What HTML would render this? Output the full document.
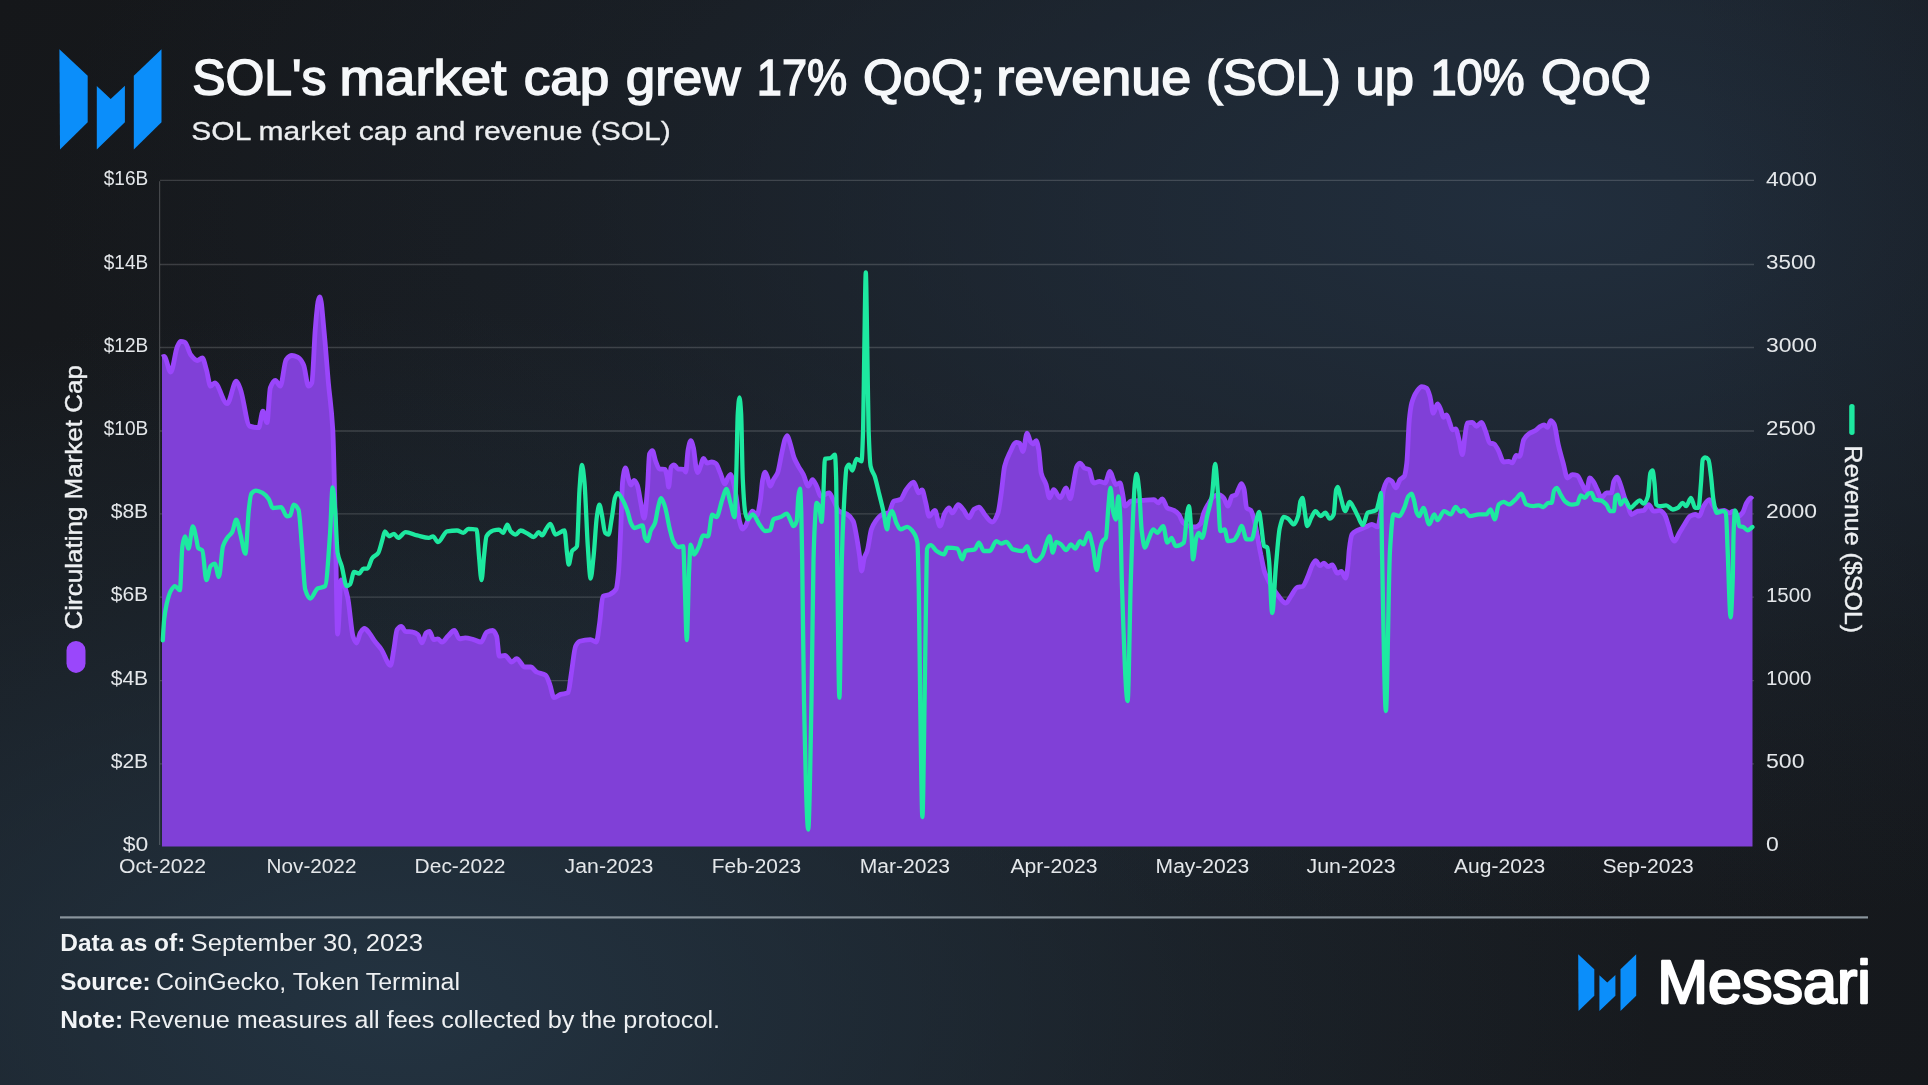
<!DOCTYPE html>
<html><head><meta charset="utf-8"><title>SOL market cap and revenue</title>
<style>
html,body{margin:0;padding:0;}
body{width:1928px;height:1085px;overflow:hidden;background:#16181b;font-family:"Liberation Sans",sans-serif;}
#bg{position:absolute;left:0;top:0;width:1928px;height:1085px;
background:
 linear-gradient(90deg, rgba(18,20,24,0) 1690px, rgba(18,20,24,0.22) 1928px),
 radial-gradient(ellipse 1500px 720px at 1540px 210px, rgba(33,46,61,1) 0%, rgba(33,46,61,0.6) 35%, rgba(33,46,61,0.24) 65%, rgba(33,46,61,0) 100%),
 radial-gradient(ellipse 1250px 700px at 400px 1010px, rgba(35,51,65,1) 0%, rgba(35,51,65,0.64) 33%, rgba(35,51,65,0.27) 66%, rgba(35,51,65,0) 100%),
 linear-gradient(135deg, #15171a 0%, #191d22 50%, #16191d 100%);}
svg{position:absolute;left:0;top:0;will-change:transform;font-family:"Liberation Sans",sans-serif;}
</style></head><body><div id="bg"></div>
<svg width="1928" height="1085" viewBox="0 0 1928 1085">
<line x1="160" y1="180.4" x2="1754" y2="180.4" stroke="#ffffff" stroke-opacity="0.16" stroke-width="1.3"/>
<line x1="160" y1="264.5" x2="1754" y2="264.5" stroke="#ffffff" stroke-opacity="0.16" stroke-width="1.3"/>
<line x1="160" y1="347.5" x2="1754" y2="347.5" stroke="#ffffff" stroke-opacity="0.16" stroke-width="1.3"/>
<line x1="160" y1="431.0" x2="1754" y2="431.0" stroke="#ffffff" stroke-opacity="0.16" stroke-width="1.3"/>
<line x1="160" y1="513.8" x2="1754" y2="513.8" stroke="#ffffff" stroke-opacity="0.16" stroke-width="1.3"/>
<line x1="160" y1="597.2" x2="1754" y2="597.2" stroke="#ffffff" stroke-opacity="0.16" stroke-width="1.3"/>
<line x1="160" y1="680.6" x2="1754" y2="680.6" stroke="#ffffff" stroke-opacity="0.16" stroke-width="1.3"/>
<line x1="160" y1="763.9" x2="1754" y2="763.9" stroke="#ffffff" stroke-opacity="0.16" stroke-width="1.3"/>
<line x1="159.6" y1="181.2" x2="159.6" y2="845.0" stroke="#ffffff" stroke-opacity="0.2" stroke-width="1.2"/>
<path d="M162.0,357.2C162.7,356.9 163.4,356.3 164.1,356.3C166.3,356.3 168.5,372.1 170.7,372.1C172.9,372.1 175.2,351.0 177.4,346.4C178.5,344.1 179.6,341.4 180.7,341.4C182.1,341.4 183.5,341.7 184.9,342.2C186.8,342.8 188.8,352.3 190.7,354.7C192.9,357.5 195.1,360.5 197.3,360.5C199.0,360.5 200.6,358.0 202.3,358.0C203.7,358.0 205.0,365.1 206.4,369.6C207.8,374.2 209.2,386.2 210.6,386.2C212.0,386.2 213.3,382.9 214.7,382.9C218.9,382.9 223.0,403.7 227.2,403.7C230.2,403.7 233.3,381.2 236.3,381.2C237.7,381.2 239.1,385.9 240.5,389.5C243.5,397.2 246.6,425.1 249.6,426.1C252.6,427.1 255.7,427.7 258.7,427.7C260.1,427.7 261.5,411.1 262.9,411.1C264.3,411.1 265.6,422.7 267.0,422.7C268.1,422.7 269.2,390.9 270.3,387.9C272.0,383.3 273.6,380.4 275.3,380.4C277.0,380.4 278.6,386.2 280.3,386.2C282.2,386.2 284.2,362.1 286.1,359.7C288.0,357.3 290.0,355.5 291.9,355.5C293.8,355.5 295.8,356.3 297.7,357.2C299.6,358.1 301.6,360.7 303.5,364.6C305.2,367.9 306.8,386.2 308.5,386.2C309.6,386.2 310.7,385.0 311.8,382.9C312.9,380.8 314.1,344.6 315.2,330.0C315.8,322.7 316.3,316.1 316.9,310.7C317.2,307.5 317.6,304.0 317.9,302.4C318.5,299.7 319.0,297.0 319.6,297.0C320.2,297.0 320.7,299.6 321.3,302.4C321.6,303.9 321.9,307.7 322.2,310.7C323.2,320.9 324.3,333.0 325.3,345.0C326.3,357.0 327.4,371.1 328.4,382.9C329.9,399.7 331.3,404.2 332.8,430.0C333.7,446.4 334.7,499.9 335.6,540.0C336.3,568.7 336.9,634.0 337.6,634.0C338.8,634.0 340.0,580.0 341.2,580.0C343.3,580.0 345.5,588.6 347.6,597.0C349.4,604.2 351.3,631.6 353.1,636.8C354.2,639.9 355.3,643.0 356.4,643.0C357.8,643.0 359.1,634.5 360.5,632.5C361.8,630.6 363.1,628.5 364.4,628.5C365.9,628.5 367.4,630.8 368.9,632.5C370.8,634.6 372.8,638.6 374.7,641.2C376.9,644.2 379.2,646.3 381.4,649.5C384.4,653.8 387.5,665.3 390.5,665.3C391.6,665.3 392.7,655.4 393.8,649.5C394.9,643.6 396.0,631.2 397.1,629.6C398.5,627.6 399.9,626.3 401.3,626.3C402.7,626.3 404.0,631.0 405.4,631.3C407.9,631.8 410.4,631.6 412.9,632.1C414.6,632.4 416.2,633.2 417.9,634.6C419.3,635.7 420.6,642.9 422.0,642.9C423.4,642.9 424.8,634.0 426.2,632.9C427.3,632.0 428.4,631.3 429.5,631.3C430.9,631.3 432.3,639.6 433.7,639.6C435.1,639.6 436.4,638.8 437.8,638.8C439.2,638.8 440.6,642.1 442.0,642.1C443.9,642.1 445.9,638.1 447.8,636.3C450.0,634.2 452.2,630.5 454.4,630.5C456.1,630.5 457.7,638.8 459.4,638.8C461.3,638.8 463.3,637.9 465.2,637.9C468.0,637.9 470.7,638.9 473.5,639.6C476.0,640.2 478.5,642.1 481.0,642.1C482.9,642.1 484.9,633.0 486.8,632.1C488.7,631.2 490.7,630.5 492.6,630.5C494.0,630.5 495.3,632.8 496.7,636.3C497.5,638.4 498.4,656.2 499.2,656.2C501.1,656.2 503.1,655.4 505.0,655.4C507.2,655.4 509.5,662.0 511.7,662.0C513.3,662.0 515.0,658.7 516.6,658.7C519.4,658.7 522.1,667.0 524.9,667.0C526.8,667.0 528.8,667.0 530.7,667.0C532.7,667.0 534.6,671.0 536.6,672.0C539.6,673.6 542.7,673.2 545.7,675.3C547.1,676.2 548.4,680.8 549.8,684.4C551.2,688.1 552.6,697.7 554.0,697.7C556.2,697.7 558.4,695.1 560.6,694.4C563.1,693.6 565.6,693.9 568.1,692.7C569.2,692.2 570.3,679.6 571.4,672.8C572.8,664.2 574.2,649.1 575.6,646.2C577.0,643.4 578.3,641.6 579.7,641.2C583.3,640.1 586.9,639.6 590.5,639.6C592.4,639.6 594.4,642.1 596.3,642.1C597.4,642.1 598.5,630.4 599.6,623.0C600.7,615.6 601.8,597.0 602.9,596.4C604.9,595.3 606.8,595.6 608.8,594.8C611.3,593.8 613.7,593.0 616.2,589.0C617.0,587.7 617.7,580.7 618.5,572.8C619.3,564.2 620.2,542.0 621.0,523.0C621.5,510.9 622.1,486.1 622.6,481.5C623.5,473.4 624.5,468.0 625.4,468.0C626.6,468.0 627.9,477.7 629.1,481.0C629.7,482.6 630.3,485.0 630.9,485.0C632.0,485.0 633.0,480.5 634.1,480.5C635.2,480.5 636.3,482.9 637.4,485.5C638.5,488.1 639.7,497.5 640.8,503.0C641.9,508.3 643.0,518.0 644.1,518.0C645.2,518.0 646.4,501.5 647.5,488.0C648.2,480.0 648.8,455.5 649.5,454.0C650.5,451.8 651.4,450.6 652.4,450.6C653.5,450.6 654.6,458.7 655.7,461.4C657.0,464.6 658.2,468.9 659.5,469.0C661.3,469.2 663.0,469.1 664.8,469.3C665.7,469.4 666.5,474.0 667.4,478.2C667.8,480.2 668.2,487.0 668.6,487.0C669.4,487.0 670.2,468.5 671.0,467.3C672.0,465.7 673.0,464.8 674.0,464.8C675.4,464.8 676.7,468.8 678.1,469.0C679.9,469.2 681.7,469.1 683.5,469.3C684.2,469.4 685.0,472.0 685.7,472.0C686.5,472.0 687.3,453.8 688.1,449.8C689.0,445.3 689.9,440.7 690.8,440.7C691.7,440.7 692.6,444.4 693.5,448.0C694.4,451.7 695.4,465.8 696.3,469.0C696.8,470.7 697.3,472.6 697.8,472.6C698.7,472.6 699.6,468.6 700.5,466.4C701.5,464.0 702.4,458.5 703.4,458.5C704.6,458.5 705.9,463.0 707.1,463.0C708.6,463.0 710.2,462.0 711.7,462.0C713.1,462.0 714.5,462.6 715.9,463.5C717.3,464.3 718.6,469.2 720.0,472.2C721.7,475.9 723.3,484.0 725.0,484.0C726.0,484.0 727.0,479.0 728.0,477.5C728.9,476.1 729.9,474.3 730.8,474.3C731.5,474.3 732.3,478.3 733.0,481.0C734.1,485.0 735.1,490.7 736.2,497.0C737.3,503.5 738.4,516.6 739.5,521.0C740.5,524.8 741.4,529.0 742.4,529.0C743.4,529.0 744.4,527.6 745.4,526.3C746.5,524.8 747.7,520.4 748.8,518.0C750.0,515.4 751.2,511.2 752.4,511.2C753.9,511.2 755.5,515.4 757.0,515.4C758.1,515.4 759.2,507.2 760.3,500.5C761.1,495.7 761.9,483.3 762.7,479.6C763.5,476.0 764.2,472.2 765.0,472.2C765.8,472.2 766.6,475.0 767.4,477.0C768.3,479.3 769.3,486.2 770.2,486.2C771.3,486.2 772.4,481.6 773.5,479.6C774.9,477.1 776.2,476.2 777.6,472.9C779.0,469.5 780.4,459.3 781.8,453.0C782.9,448.1 784.0,441.3 785.1,438.9C785.8,437.3 786.6,435.6 787.3,435.6C788.2,435.6 789.2,440.2 790.1,443.1C791.5,447.3 792.8,454.5 794.2,458.0C795.6,461.6 797.0,463.8 798.4,466.3C800.1,469.3 801.7,471.3 803.4,474.6C805.0,477.8 806.7,486.2 808.3,486.2C809.7,486.2 811.1,479.6 812.5,479.6C813.9,479.6 815.2,483.6 816.6,486.2C818.0,488.9 819.4,496.2 820.8,496.2C822.2,496.2 823.5,495.0 824.9,494.5C826.3,493.9 827.7,492.9 829.1,492.9C830.5,492.9 831.8,497.1 833.2,499.5C835.1,502.9 837.1,509.8 839.0,511.1C841.8,513.0 844.5,512.7 847.3,514.4C849.3,515.6 851.2,517.3 853.2,521.1C854.4,523.4 855.6,531.2 856.8,537.7C857.7,542.8 858.7,549.5 859.6,556.0C860.3,560.7 860.9,571.0 861.6,571.0C862.5,571.0 863.3,560.8 864.2,558.0C865.2,554.8 866.2,554.1 867.2,551.0C868.6,546.6 870.0,533.4 871.4,529.4C872.8,525.4 874.2,523.0 875.6,521.1C877.8,518.1 880.0,515.3 882.2,514.4C884.4,513.5 886.6,513.8 888.8,512.8C890.5,512.0 892.1,502.0 893.8,501.2C896.0,500.1 898.3,500.5 900.5,499.5C902.4,498.6 904.4,492.0 906.3,489.5C908.8,486.3 911.2,482.1 913.7,482.1C915.4,482.1 917.0,492.9 918.7,492.9C919.8,492.9 920.9,490.0 922.0,490.0C923.3,490.0 924.5,498.2 925.8,502.9C926.9,507.0 928.0,516.2 929.1,516.2C931.0,516.2 933.0,510.4 934.9,510.4C936.6,510.4 938.2,526.1 939.9,526.1C941.6,526.1 943.2,515.6 944.9,512.9C946.3,510.6 947.6,507.9 949.0,507.9C950.1,507.9 951.3,512.9 952.4,512.9C954.3,512.9 956.3,504.6 958.2,504.6C959.9,504.6 961.5,507.6 963.2,509.5C965.1,511.7 967.1,517.8 969.0,517.8C970.6,517.8 972.3,510.7 973.9,509.5C975.6,508.3 977.2,507.1 978.9,507.1C980.8,507.1 982.8,512.3 984.7,514.5C987.2,517.3 989.7,522.0 992.2,522.0C994.1,522.0 996.1,518.0 998.0,512.9C999.1,510.0 1000.2,500.5 1001.3,492.9C1002.4,485.3 1003.5,471.0 1004.6,466.4C1006.3,459.5 1007.9,456.5 1009.6,453.1C1011.8,448.6 1014.1,442.3 1016.3,442.3C1017.4,442.3 1018.5,442.7 1019.6,443.2C1020.7,443.7 1021.8,451.5 1022.9,451.5C1024.3,451.5 1025.7,433.2 1027.1,433.2C1028.2,433.2 1029.3,440.0 1030.4,441.5C1031.2,442.7 1032.1,444.0 1032.9,444.0C1034.0,444.0 1035.1,440.7 1036.2,440.7C1037.0,440.7 1037.9,445.4 1038.7,449.8C1039.5,454.2 1040.4,469.6 1041.2,473.0C1042.8,479.6 1044.5,479.7 1046.1,484.6C1047.2,488.0 1048.4,497.9 1049.5,497.9C1050.9,497.9 1052.2,489.6 1053.6,489.6C1055.8,489.6 1058.0,497.9 1060.2,497.9C1062.2,497.9 1064.1,488.0 1066.1,488.0C1067.5,488.0 1068.8,498.8 1070.2,498.8C1071.3,498.8 1072.4,488.4 1073.5,483.0C1074.6,477.6 1075.7,468.2 1076.8,466.4C1077.9,464.5 1079.1,463.1 1080.2,463.1C1081.6,463.1 1082.9,467.3 1084.3,468.0C1086.0,468.9 1087.6,468.6 1089.3,469.7C1090.4,470.4 1091.5,479.7 1092.6,481.3C1093.2,482.1 1093.7,483.0 1094.3,483.0C1096.0,483.0 1097.6,481.3 1099.3,481.3C1101.2,481.3 1103.2,483.0 1105.1,483.0C1106.7,483.0 1108.4,471.4 1110.0,471.4C1111.1,471.4 1112.3,477.2 1113.4,479.7C1114.2,481.5 1115.1,484.6 1115.9,484.6C1117.3,484.6 1118.6,483.0 1120.0,483.0C1120.8,483.0 1121.7,489.1 1122.5,492.9C1123.3,496.7 1124.2,506.2 1125.0,506.2C1126.9,506.2 1128.9,501.5 1130.8,501.2C1134.7,500.7 1138.5,500.7 1142.4,500.4C1146.3,500.1 1150.1,499.6 1154.0,499.6C1155.4,499.6 1156.8,502.9 1158.2,502.9C1159.6,502.9 1160.9,498.8 1162.3,498.8C1164.0,498.8 1165.6,506.8 1167.3,507.9C1169.5,509.3 1171.7,509.2 1173.9,510.4C1175.6,511.3 1177.2,512.5 1178.9,514.5C1180.3,516.1 1181.7,521.5 1183.1,522.8C1185.0,524.6 1187.0,525.7 1188.9,526.1C1191.1,526.6 1193.3,527.0 1195.5,527.0C1197.2,527.0 1198.8,525.6 1200.5,523.7C1201.6,522.4 1202.7,515.6 1203.8,512.9C1205.2,509.4 1206.6,506.9 1208.0,504.6C1209.9,501.4 1211.9,497.3 1213.8,496.3C1215.5,495.4 1217.1,494.6 1218.8,494.6C1220.4,494.6 1222.1,496.2 1223.7,497.9C1225.1,499.3 1226.5,506.2 1227.9,506.2C1229.3,506.2 1230.6,497.3 1232.0,496.3C1233.4,495.3 1234.8,495.7 1236.2,494.6C1236.9,494.1 1237.6,490.9 1238.3,489.5C1239.4,487.2 1240.5,483.7 1241.6,483.7C1242.4,483.7 1243.3,486.6 1244.1,489.5C1244.9,492.4 1245.8,506.8 1246.6,507.8C1248.0,509.4 1249.3,508.9 1250.7,510.2C1251.8,511.3 1253.0,515.4 1254.1,519.4C1255.2,523.3 1256.3,530.2 1257.4,536.0C1258.2,540.4 1259.1,545.6 1259.9,550.0C1260.2,551.7 1260.6,553.4 1260.9,555.0C1262.3,561.5 1263.6,569.5 1265.0,573.2C1269.2,584.4 1273.3,589.6 1277.5,594.8C1280.3,598.2 1283.0,603.1 1285.8,603.1C1287.5,603.1 1289.1,598.7 1290.8,596.4C1293.0,593.4 1295.2,587.9 1297.4,587.3C1299.1,586.8 1300.7,587.0 1302.4,586.5C1304.3,585.9 1306.3,579.9 1308.2,575.7C1309.6,572.6 1311.0,567.3 1312.4,564.9C1313.5,563.1 1314.6,560.7 1315.7,560.7C1317.1,560.7 1318.4,565.7 1319.8,565.7C1321.2,565.7 1322.6,563.2 1324.0,563.2C1325.4,563.2 1326.7,566.6 1328.1,566.6C1329.5,566.6 1330.9,564.9 1332.3,564.9C1334.0,564.9 1335.6,573.2 1337.3,573.2C1338.7,573.2 1340.0,571.5 1341.4,571.5C1342.8,571.5 1344.2,578.2 1345.6,578.2C1346.4,578.2 1347.2,571.3 1348.0,564.9C1348.4,561.7 1348.8,553.3 1349.2,550.0C1350.1,542.4 1351.1,535.7 1352.0,534.3C1353.4,532.3 1354.7,531.7 1356.1,531.0C1357.5,530.2 1358.9,529.9 1360.3,529.3C1362.2,528.5 1364.2,527.6 1366.1,526.8C1368.0,526.0 1370.0,524.4 1371.9,524.4C1373.8,524.4 1375.8,526.8 1377.7,526.8C1378.8,526.8 1379.9,517.9 1381.0,511.1C1381.8,505.9 1382.7,492.4 1383.5,489.5C1385.2,483.7 1386.8,479.5 1388.5,479.5C1389.6,479.5 1390.7,480.4 1391.8,481.2C1393.2,482.3 1394.6,487.8 1396.0,487.8C1397.4,487.8 1398.7,481.0 1400.1,479.5C1401.5,477.9 1402.9,478.2 1404.3,476.2C1405.1,475.0 1406.0,469.7 1406.8,462.9C1407.6,456.1 1408.5,428.0 1409.3,419.8C1410.1,411.9 1410.9,406.2 1411.7,403.2C1413.4,397.1 1415.0,393.9 1416.7,391.6C1418.4,389.3 1420.0,386.6 1421.7,386.6C1423.4,386.6 1425.0,387.2 1426.7,388.3C1427.8,389.0 1428.9,392.9 1430.0,396.6C1431.1,400.3 1432.2,413.2 1433.3,413.2C1434.7,413.2 1436.1,404.0 1437.5,404.0C1438.6,404.0 1439.7,407.3 1440.8,409.8C1441.6,411.7 1442.5,417.3 1443.3,417.3C1444.4,417.3 1445.5,414.8 1446.6,414.8C1447.7,414.8 1448.8,420.2 1449.9,423.1C1450.7,425.3 1451.6,429.8 1452.4,429.8C1453.5,429.8 1454.6,428.9 1455.7,428.9C1456.8,428.9 1457.9,435.6 1459.0,439.7C1460.1,443.9 1461.3,454.6 1462.4,454.6C1463.2,454.6 1464.1,441.6 1464.9,436.4C1465.7,431.4 1466.5,423.4 1467.3,423.1C1469.0,422.5 1470.6,422.3 1472.3,422.3C1473.7,422.3 1475.1,426.4 1476.5,426.4C1478.2,426.4 1479.8,422.3 1481.5,422.3C1482.9,422.3 1484.2,428.0 1485.6,431.4C1487.0,434.8 1488.4,442.4 1489.8,443.0C1491.2,443.6 1492.5,443.4 1493.9,443.9C1495.3,444.4 1496.6,447.4 1498.0,449.7C1500.0,453.0 1501.9,462.1 1503.9,462.1C1505.5,462.1 1507.2,461.3 1508.8,461.3C1509.9,461.3 1511.1,462.9 1512.2,462.9C1513.6,462.9 1514.9,455.5 1516.3,455.5C1517.4,455.5 1518.5,456.3 1519.6,456.3C1521.0,456.3 1522.4,442.3 1523.8,439.7C1525.5,436.7 1527.1,435.1 1528.8,433.9C1531.0,432.3 1533.2,432.0 1535.4,430.6C1536.9,429.6 1538.5,427.5 1540.0,426.6C1541.4,425.8 1542.7,424.9 1544.1,424.9C1545.2,424.9 1546.4,427.4 1547.5,427.4C1548.6,427.4 1549.7,420.7 1550.8,420.7C1551.9,420.7 1553.0,422.3 1554.1,424.1C1555.5,426.4 1556.9,438.8 1558.3,444.8C1559.9,451.8 1561.6,457.2 1563.2,463.1C1564.6,468.2 1566.0,478.0 1567.4,478.0C1569.1,478.0 1570.7,474.7 1572.4,474.7C1574.0,474.7 1575.7,475.0 1577.3,475.5C1579.0,476.0 1580.6,481.8 1582.3,484.6C1583.7,487.0 1585.1,491.3 1586.5,491.3C1587.6,491.3 1588.7,478.0 1589.8,478.0C1590.9,478.0 1592.0,479.9 1593.1,481.3C1594.5,483.1 1595.9,486.8 1597.3,489.6C1598.7,492.3 1600.0,497.9 1601.4,497.9C1603.1,497.9 1604.7,492.9 1606.4,492.9C1608.1,492.9 1609.7,492.9 1611.4,492.9C1612.2,492.9 1613.1,483.0 1613.9,481.3C1615.0,479.1 1616.1,477.2 1617.2,477.2C1618.3,477.2 1619.4,481.7 1620.5,484.6C1621.9,488.2 1623.2,494.1 1624.6,497.9C1625.7,501.0 1626.9,503.4 1628.0,506.2C1629.1,508.9 1630.2,514.5 1631.3,514.5C1633.5,514.5 1635.7,511.7 1637.9,511.2C1639.8,510.8 1641.8,510.9 1643.7,510.4C1645.4,510.0 1647.0,504.6 1648.7,504.6C1650.4,504.6 1652.0,511.2 1653.7,511.2C1655.6,511.2 1657.6,510.4 1659.5,510.4C1661.2,510.4 1662.8,512.3 1664.5,514.5C1665.9,516.3 1667.2,521.8 1668.6,526.1C1669.7,529.6 1670.9,535.6 1672.0,537.8C1672.8,539.3 1673.6,541.1 1674.4,541.1C1676.1,541.1 1677.7,535.6 1679.4,532.8C1681.1,530.0 1682.7,527.1 1684.4,524.5C1686.3,521.5 1688.3,517.2 1690.2,516.2C1691.9,515.3 1693.5,514.5 1695.2,514.5C1696.6,514.5 1697.9,516.2 1699.3,516.2C1700.7,516.2 1702.1,508.4 1703.5,506.2C1705.4,503.2 1707.4,499.6 1709.3,499.6C1710.7,499.6 1712.0,504.5 1713.4,506.2C1715.1,508.3 1716.7,511.2 1718.4,511.2C1720.3,511.2 1722.3,510.4 1724.2,510.4C1725.9,510.4 1727.5,512.9 1729.2,512.9C1730.6,512.9 1732.0,511.2 1733.4,511.2C1735.0,511.2 1736.7,516.2 1738.3,516.2C1739.7,516.2 1741.1,514.6 1742.5,512.9C1743.9,511.3 1745.2,505.1 1746.6,502.9C1748.0,500.7 1749.4,497.9 1750.8,497.9C1751.4,497.9 1751.9,499.0 1752.5,499.6L1752.5,846.6L162.0,846.6Z" fill="#8040d7"/>
<path d="M162.0,357.2C162.7,356.9 163.4,356.3 164.1,356.3C166.3,356.3 168.5,372.1 170.7,372.1C172.9,372.1 175.2,351.0 177.4,346.4C178.5,344.1 179.6,341.4 180.7,341.4C182.1,341.4 183.5,341.7 184.9,342.2C186.8,342.8 188.8,352.3 190.7,354.7C192.9,357.5 195.1,360.5 197.3,360.5C199.0,360.5 200.6,358.0 202.3,358.0C203.7,358.0 205.0,365.1 206.4,369.6C207.8,374.2 209.2,386.2 210.6,386.2C212.0,386.2 213.3,382.9 214.7,382.9C218.9,382.9 223.0,403.7 227.2,403.7C230.2,403.7 233.3,381.2 236.3,381.2C237.7,381.2 239.1,385.9 240.5,389.5C243.5,397.2 246.6,425.1 249.6,426.1C252.6,427.1 255.7,427.7 258.7,427.7C260.1,427.7 261.5,411.1 262.9,411.1C264.3,411.1 265.6,422.7 267.0,422.7C268.1,422.7 269.2,390.9 270.3,387.9C272.0,383.3 273.6,380.4 275.3,380.4C277.0,380.4 278.6,386.2 280.3,386.2C282.2,386.2 284.2,362.1 286.1,359.7C288.0,357.3 290.0,355.5 291.9,355.5C293.8,355.5 295.8,356.3 297.7,357.2C299.6,358.1 301.6,360.7 303.5,364.6C305.2,367.9 306.8,386.2 308.5,386.2C309.6,386.2 310.7,385.0 311.8,382.9C312.9,380.8 314.1,344.6 315.2,330.0C315.8,322.7 316.3,316.1 316.9,310.7C317.2,307.5 317.6,304.0 317.9,302.4C318.5,299.7 319.0,297.0 319.6,297.0C320.2,297.0 320.7,299.6 321.3,302.4C321.6,303.9 321.9,307.7 322.2,310.7C323.2,320.9 324.3,333.0 325.3,345.0C326.3,357.0 327.4,371.1 328.4,382.9C329.9,399.7 331.3,404.2 332.8,430.0C333.7,446.4 334.7,499.9 335.6,540.0C336.3,568.7 336.9,634.0 337.6,634.0C338.8,634.0 340.0,580.0 341.2,580.0C343.3,580.0 345.5,588.6 347.6,597.0C349.4,604.2 351.3,631.6 353.1,636.8C354.2,639.9 355.3,643.0 356.4,643.0C357.8,643.0 359.1,634.5 360.5,632.5C361.8,630.6 363.1,628.5 364.4,628.5C365.9,628.5 367.4,630.8 368.9,632.5C370.8,634.6 372.8,638.6 374.7,641.2C376.9,644.2 379.2,646.3 381.4,649.5C384.4,653.8 387.5,665.3 390.5,665.3C391.6,665.3 392.7,655.4 393.8,649.5C394.9,643.6 396.0,631.2 397.1,629.6C398.5,627.6 399.9,626.3 401.3,626.3C402.7,626.3 404.0,631.0 405.4,631.3C407.9,631.8 410.4,631.6 412.9,632.1C414.6,632.4 416.2,633.2 417.9,634.6C419.3,635.7 420.6,642.9 422.0,642.9C423.4,642.9 424.8,634.0 426.2,632.9C427.3,632.0 428.4,631.3 429.5,631.3C430.9,631.3 432.3,639.6 433.7,639.6C435.1,639.6 436.4,638.8 437.8,638.8C439.2,638.8 440.6,642.1 442.0,642.1C443.9,642.1 445.9,638.1 447.8,636.3C450.0,634.2 452.2,630.5 454.4,630.5C456.1,630.5 457.7,638.8 459.4,638.8C461.3,638.8 463.3,637.9 465.2,637.9C468.0,637.9 470.7,638.9 473.5,639.6C476.0,640.2 478.5,642.1 481.0,642.1C482.9,642.1 484.9,633.0 486.8,632.1C488.7,631.2 490.7,630.5 492.6,630.5C494.0,630.5 495.3,632.8 496.7,636.3C497.5,638.4 498.4,656.2 499.2,656.2C501.1,656.2 503.1,655.4 505.0,655.4C507.2,655.4 509.5,662.0 511.7,662.0C513.3,662.0 515.0,658.7 516.6,658.7C519.4,658.7 522.1,667.0 524.9,667.0C526.8,667.0 528.8,667.0 530.7,667.0C532.7,667.0 534.6,671.0 536.6,672.0C539.6,673.6 542.7,673.2 545.7,675.3C547.1,676.2 548.4,680.8 549.8,684.4C551.2,688.1 552.6,697.7 554.0,697.7C556.2,697.7 558.4,695.1 560.6,694.4C563.1,693.6 565.6,693.9 568.1,692.7C569.2,692.2 570.3,679.6 571.4,672.8C572.8,664.2 574.2,649.1 575.6,646.2C577.0,643.4 578.3,641.6 579.7,641.2C583.3,640.1 586.9,639.6 590.5,639.6C592.4,639.6 594.4,642.1 596.3,642.1C597.4,642.1 598.5,630.4 599.6,623.0C600.7,615.6 601.8,597.0 602.9,596.4C604.9,595.3 606.8,595.6 608.8,594.8C611.3,593.8 613.7,593.0 616.2,589.0C617.0,587.7 617.7,580.7 618.5,572.8C619.3,564.2 620.2,542.0 621.0,523.0C621.5,510.9 622.1,486.1 622.6,481.5C623.5,473.4 624.5,468.0 625.4,468.0C626.6,468.0 627.9,477.7 629.1,481.0C629.7,482.6 630.3,485.0 630.9,485.0C632.0,485.0 633.0,480.5 634.1,480.5C635.2,480.5 636.3,482.9 637.4,485.5C638.5,488.1 639.7,497.5 640.8,503.0C641.9,508.3 643.0,518.0 644.1,518.0C645.2,518.0 646.4,501.5 647.5,488.0C648.2,480.0 648.8,455.5 649.5,454.0C650.5,451.8 651.4,450.6 652.4,450.6C653.5,450.6 654.6,458.7 655.7,461.4C657.0,464.6 658.2,468.9 659.5,469.0C661.3,469.2 663.0,469.1 664.8,469.3C665.7,469.4 666.5,474.0 667.4,478.2C667.8,480.2 668.2,487.0 668.6,487.0C669.4,487.0 670.2,468.5 671.0,467.3C672.0,465.7 673.0,464.8 674.0,464.8C675.4,464.8 676.7,468.8 678.1,469.0C679.9,469.2 681.7,469.1 683.5,469.3C684.2,469.4 685.0,472.0 685.7,472.0C686.5,472.0 687.3,453.8 688.1,449.8C689.0,445.3 689.9,440.7 690.8,440.7C691.7,440.7 692.6,444.4 693.5,448.0C694.4,451.7 695.4,465.8 696.3,469.0C696.8,470.7 697.3,472.6 697.8,472.6C698.7,472.6 699.6,468.6 700.5,466.4C701.5,464.0 702.4,458.5 703.4,458.5C704.6,458.5 705.9,463.0 707.1,463.0C708.6,463.0 710.2,462.0 711.7,462.0C713.1,462.0 714.5,462.6 715.9,463.5C717.3,464.3 718.6,469.2 720.0,472.2C721.7,475.9 723.3,484.0 725.0,484.0C726.0,484.0 727.0,479.0 728.0,477.5C728.9,476.1 729.9,474.3 730.8,474.3C731.5,474.3 732.3,478.3 733.0,481.0C734.1,485.0 735.1,490.7 736.2,497.0C737.3,503.5 738.4,516.6 739.5,521.0C740.5,524.8 741.4,529.0 742.4,529.0C743.4,529.0 744.4,527.6 745.4,526.3C746.5,524.8 747.7,520.4 748.8,518.0C750.0,515.4 751.2,511.2 752.4,511.2C753.9,511.2 755.5,515.4 757.0,515.4C758.1,515.4 759.2,507.2 760.3,500.5C761.1,495.7 761.9,483.3 762.7,479.6C763.5,476.0 764.2,472.2 765.0,472.2C765.8,472.2 766.6,475.0 767.4,477.0C768.3,479.3 769.3,486.2 770.2,486.2C771.3,486.2 772.4,481.6 773.5,479.6C774.9,477.1 776.2,476.2 777.6,472.9C779.0,469.5 780.4,459.3 781.8,453.0C782.9,448.1 784.0,441.3 785.1,438.9C785.8,437.3 786.6,435.6 787.3,435.6C788.2,435.6 789.2,440.2 790.1,443.1C791.5,447.3 792.8,454.5 794.2,458.0C795.6,461.6 797.0,463.8 798.4,466.3C800.1,469.3 801.7,471.3 803.4,474.6C805.0,477.8 806.7,486.2 808.3,486.2C809.7,486.2 811.1,479.6 812.5,479.6C813.9,479.6 815.2,483.6 816.6,486.2C818.0,488.9 819.4,496.2 820.8,496.2C822.2,496.2 823.5,495.0 824.9,494.5C826.3,493.9 827.7,492.9 829.1,492.9C830.5,492.9 831.8,497.1 833.2,499.5C835.1,502.9 837.1,509.8 839.0,511.1C841.8,513.0 844.5,512.7 847.3,514.4C849.3,515.6 851.2,517.3 853.2,521.1C854.4,523.4 855.6,531.2 856.8,537.7C857.7,542.8 858.7,549.5 859.6,556.0C860.3,560.7 860.9,571.0 861.6,571.0C862.5,571.0 863.3,560.8 864.2,558.0C865.2,554.8 866.2,554.1 867.2,551.0C868.6,546.6 870.0,533.4 871.4,529.4C872.8,525.4 874.2,523.0 875.6,521.1C877.8,518.1 880.0,515.3 882.2,514.4C884.4,513.5 886.6,513.8 888.8,512.8C890.5,512.0 892.1,502.0 893.8,501.2C896.0,500.1 898.3,500.5 900.5,499.5C902.4,498.6 904.4,492.0 906.3,489.5C908.8,486.3 911.2,482.1 913.7,482.1C915.4,482.1 917.0,492.9 918.7,492.9C919.8,492.9 920.9,490.0 922.0,490.0C923.3,490.0 924.5,498.2 925.8,502.9C926.9,507.0 928.0,516.2 929.1,516.2C931.0,516.2 933.0,510.4 934.9,510.4C936.6,510.4 938.2,526.1 939.9,526.1C941.6,526.1 943.2,515.6 944.9,512.9C946.3,510.6 947.6,507.9 949.0,507.9C950.1,507.9 951.3,512.9 952.4,512.9C954.3,512.9 956.3,504.6 958.2,504.6C959.9,504.6 961.5,507.6 963.2,509.5C965.1,511.7 967.1,517.8 969.0,517.8C970.6,517.8 972.3,510.7 973.9,509.5C975.6,508.3 977.2,507.1 978.9,507.1C980.8,507.1 982.8,512.3 984.7,514.5C987.2,517.3 989.7,522.0 992.2,522.0C994.1,522.0 996.1,518.0 998.0,512.9C999.1,510.0 1000.2,500.5 1001.3,492.9C1002.4,485.3 1003.5,471.0 1004.6,466.4C1006.3,459.5 1007.9,456.5 1009.6,453.1C1011.8,448.6 1014.1,442.3 1016.3,442.3C1017.4,442.3 1018.5,442.7 1019.6,443.2C1020.7,443.7 1021.8,451.5 1022.9,451.5C1024.3,451.5 1025.7,433.2 1027.1,433.2C1028.2,433.2 1029.3,440.0 1030.4,441.5C1031.2,442.7 1032.1,444.0 1032.9,444.0C1034.0,444.0 1035.1,440.7 1036.2,440.7C1037.0,440.7 1037.9,445.4 1038.7,449.8C1039.5,454.2 1040.4,469.6 1041.2,473.0C1042.8,479.6 1044.5,479.7 1046.1,484.6C1047.2,488.0 1048.4,497.9 1049.5,497.9C1050.9,497.9 1052.2,489.6 1053.6,489.6C1055.8,489.6 1058.0,497.9 1060.2,497.9C1062.2,497.9 1064.1,488.0 1066.1,488.0C1067.5,488.0 1068.8,498.8 1070.2,498.8C1071.3,498.8 1072.4,488.4 1073.5,483.0C1074.6,477.6 1075.7,468.2 1076.8,466.4C1077.9,464.5 1079.1,463.1 1080.2,463.1C1081.6,463.1 1082.9,467.3 1084.3,468.0C1086.0,468.9 1087.6,468.6 1089.3,469.7C1090.4,470.4 1091.5,479.7 1092.6,481.3C1093.2,482.1 1093.7,483.0 1094.3,483.0C1096.0,483.0 1097.6,481.3 1099.3,481.3C1101.2,481.3 1103.2,483.0 1105.1,483.0C1106.7,483.0 1108.4,471.4 1110.0,471.4C1111.1,471.4 1112.3,477.2 1113.4,479.7C1114.2,481.5 1115.1,484.6 1115.9,484.6C1117.3,484.6 1118.6,483.0 1120.0,483.0C1120.8,483.0 1121.7,489.1 1122.5,492.9C1123.3,496.7 1124.2,506.2 1125.0,506.2C1126.9,506.2 1128.9,501.5 1130.8,501.2C1134.7,500.7 1138.5,500.7 1142.4,500.4C1146.3,500.1 1150.1,499.6 1154.0,499.6C1155.4,499.6 1156.8,502.9 1158.2,502.9C1159.6,502.9 1160.9,498.8 1162.3,498.8C1164.0,498.8 1165.6,506.8 1167.3,507.9C1169.5,509.3 1171.7,509.2 1173.9,510.4C1175.6,511.3 1177.2,512.5 1178.9,514.5C1180.3,516.1 1181.7,521.5 1183.1,522.8C1185.0,524.6 1187.0,525.7 1188.9,526.1C1191.1,526.6 1193.3,527.0 1195.5,527.0C1197.2,527.0 1198.8,525.6 1200.5,523.7C1201.6,522.4 1202.7,515.6 1203.8,512.9C1205.2,509.4 1206.6,506.9 1208.0,504.6C1209.9,501.4 1211.9,497.3 1213.8,496.3C1215.5,495.4 1217.1,494.6 1218.8,494.6C1220.4,494.6 1222.1,496.2 1223.7,497.9C1225.1,499.3 1226.5,506.2 1227.9,506.2C1229.3,506.2 1230.6,497.3 1232.0,496.3C1233.4,495.3 1234.8,495.7 1236.2,494.6C1236.9,494.1 1237.6,490.9 1238.3,489.5C1239.4,487.2 1240.5,483.7 1241.6,483.7C1242.4,483.7 1243.3,486.6 1244.1,489.5C1244.9,492.4 1245.8,506.8 1246.6,507.8C1248.0,509.4 1249.3,508.9 1250.7,510.2C1251.8,511.3 1253.0,515.4 1254.1,519.4C1255.2,523.3 1256.3,530.2 1257.4,536.0C1258.2,540.4 1259.1,545.6 1259.9,550.0C1260.2,551.7 1260.6,553.4 1260.9,555.0C1262.3,561.5 1263.6,569.5 1265.0,573.2C1269.2,584.4 1273.3,589.6 1277.5,594.8C1280.3,598.2 1283.0,603.1 1285.8,603.1C1287.5,603.1 1289.1,598.7 1290.8,596.4C1293.0,593.4 1295.2,587.9 1297.4,587.3C1299.1,586.8 1300.7,587.0 1302.4,586.5C1304.3,585.9 1306.3,579.9 1308.2,575.7C1309.6,572.6 1311.0,567.3 1312.4,564.9C1313.5,563.1 1314.6,560.7 1315.7,560.7C1317.1,560.7 1318.4,565.7 1319.8,565.7C1321.2,565.7 1322.6,563.2 1324.0,563.2C1325.4,563.2 1326.7,566.6 1328.1,566.6C1329.5,566.6 1330.9,564.9 1332.3,564.9C1334.0,564.9 1335.6,573.2 1337.3,573.2C1338.7,573.2 1340.0,571.5 1341.4,571.5C1342.8,571.5 1344.2,578.2 1345.6,578.2C1346.4,578.2 1347.2,571.3 1348.0,564.9C1348.4,561.7 1348.8,553.3 1349.2,550.0C1350.1,542.4 1351.1,535.7 1352.0,534.3C1353.4,532.3 1354.7,531.7 1356.1,531.0C1357.5,530.2 1358.9,529.9 1360.3,529.3C1362.2,528.5 1364.2,527.6 1366.1,526.8C1368.0,526.0 1370.0,524.4 1371.9,524.4C1373.8,524.4 1375.8,526.8 1377.7,526.8C1378.8,526.8 1379.9,517.9 1381.0,511.1C1381.8,505.9 1382.7,492.4 1383.5,489.5C1385.2,483.7 1386.8,479.5 1388.5,479.5C1389.6,479.5 1390.7,480.4 1391.8,481.2C1393.2,482.3 1394.6,487.8 1396.0,487.8C1397.4,487.8 1398.7,481.0 1400.1,479.5C1401.5,477.9 1402.9,478.2 1404.3,476.2C1405.1,475.0 1406.0,469.7 1406.8,462.9C1407.6,456.1 1408.5,428.0 1409.3,419.8C1410.1,411.9 1410.9,406.2 1411.7,403.2C1413.4,397.1 1415.0,393.9 1416.7,391.6C1418.4,389.3 1420.0,386.6 1421.7,386.6C1423.4,386.6 1425.0,387.2 1426.7,388.3C1427.8,389.0 1428.9,392.9 1430.0,396.6C1431.1,400.3 1432.2,413.2 1433.3,413.2C1434.7,413.2 1436.1,404.0 1437.5,404.0C1438.6,404.0 1439.7,407.3 1440.8,409.8C1441.6,411.7 1442.5,417.3 1443.3,417.3C1444.4,417.3 1445.5,414.8 1446.6,414.8C1447.7,414.8 1448.8,420.2 1449.9,423.1C1450.7,425.3 1451.6,429.8 1452.4,429.8C1453.5,429.8 1454.6,428.9 1455.7,428.9C1456.8,428.9 1457.9,435.6 1459.0,439.7C1460.1,443.9 1461.3,454.6 1462.4,454.6C1463.2,454.6 1464.1,441.6 1464.9,436.4C1465.7,431.4 1466.5,423.4 1467.3,423.1C1469.0,422.5 1470.6,422.3 1472.3,422.3C1473.7,422.3 1475.1,426.4 1476.5,426.4C1478.2,426.4 1479.8,422.3 1481.5,422.3C1482.9,422.3 1484.2,428.0 1485.6,431.4C1487.0,434.8 1488.4,442.4 1489.8,443.0C1491.2,443.6 1492.5,443.4 1493.9,443.9C1495.3,444.4 1496.6,447.4 1498.0,449.7C1500.0,453.0 1501.9,462.1 1503.9,462.1C1505.5,462.1 1507.2,461.3 1508.8,461.3C1509.9,461.3 1511.1,462.9 1512.2,462.9C1513.6,462.9 1514.9,455.5 1516.3,455.5C1517.4,455.5 1518.5,456.3 1519.6,456.3C1521.0,456.3 1522.4,442.3 1523.8,439.7C1525.5,436.7 1527.1,435.1 1528.8,433.9C1531.0,432.3 1533.2,432.0 1535.4,430.6C1536.9,429.6 1538.5,427.5 1540.0,426.6C1541.4,425.8 1542.7,424.9 1544.1,424.9C1545.2,424.9 1546.4,427.4 1547.5,427.4C1548.6,427.4 1549.7,420.7 1550.8,420.7C1551.9,420.7 1553.0,422.3 1554.1,424.1C1555.5,426.4 1556.9,438.8 1558.3,444.8C1559.9,451.8 1561.6,457.2 1563.2,463.1C1564.6,468.2 1566.0,478.0 1567.4,478.0C1569.1,478.0 1570.7,474.7 1572.4,474.7C1574.0,474.7 1575.7,475.0 1577.3,475.5C1579.0,476.0 1580.6,481.8 1582.3,484.6C1583.7,487.0 1585.1,491.3 1586.5,491.3C1587.6,491.3 1588.7,478.0 1589.8,478.0C1590.9,478.0 1592.0,479.9 1593.1,481.3C1594.5,483.1 1595.9,486.8 1597.3,489.6C1598.7,492.3 1600.0,497.9 1601.4,497.9C1603.1,497.9 1604.7,492.9 1606.4,492.9C1608.1,492.9 1609.7,492.9 1611.4,492.9C1612.2,492.9 1613.1,483.0 1613.9,481.3C1615.0,479.1 1616.1,477.2 1617.2,477.2C1618.3,477.2 1619.4,481.7 1620.5,484.6C1621.9,488.2 1623.2,494.1 1624.6,497.9C1625.7,501.0 1626.9,503.4 1628.0,506.2C1629.1,508.9 1630.2,514.5 1631.3,514.5C1633.5,514.5 1635.7,511.7 1637.9,511.2C1639.8,510.8 1641.8,510.9 1643.7,510.4C1645.4,510.0 1647.0,504.6 1648.7,504.6C1650.4,504.6 1652.0,511.2 1653.7,511.2C1655.6,511.2 1657.6,510.4 1659.5,510.4C1661.2,510.4 1662.8,512.3 1664.5,514.5C1665.9,516.3 1667.2,521.8 1668.6,526.1C1669.7,529.6 1670.9,535.6 1672.0,537.8C1672.8,539.3 1673.6,541.1 1674.4,541.1C1676.1,541.1 1677.7,535.6 1679.4,532.8C1681.1,530.0 1682.7,527.1 1684.4,524.5C1686.3,521.5 1688.3,517.2 1690.2,516.2C1691.9,515.3 1693.5,514.5 1695.2,514.5C1696.6,514.5 1697.9,516.2 1699.3,516.2C1700.7,516.2 1702.1,508.4 1703.5,506.2C1705.4,503.2 1707.4,499.6 1709.3,499.6C1710.7,499.6 1712.0,504.5 1713.4,506.2C1715.1,508.3 1716.7,511.2 1718.4,511.2C1720.3,511.2 1722.3,510.4 1724.2,510.4C1725.9,510.4 1727.5,512.9 1729.2,512.9C1730.6,512.9 1732.0,511.2 1733.4,511.2C1735.0,511.2 1736.7,516.2 1738.3,516.2C1739.7,516.2 1741.1,514.6 1742.5,512.9C1743.9,511.3 1745.2,505.1 1746.6,502.9C1748.0,500.7 1749.4,497.9 1750.8,497.9C1751.4,497.9 1751.9,499.0 1752.5,499.6" fill="none" stroke="#9a46fb" stroke-width="4.8" stroke-linejoin="round" stroke-linecap="butt"/>
<path d="M162.8,640.4C163.2,633.6 163.7,624.1 164.1,620.0C164.9,612.2 165.8,608.0 166.6,604.3C168.0,598.3 169.3,593.3 170.7,591.0C172.1,588.6 173.5,586.1 174.9,586.1C176.6,586.1 178.2,590.2 179.9,590.2C180.7,590.2 181.6,551.6 182.4,546.2C183.2,540.8 184.1,536.3 184.9,536.3C186.1,536.3 187.3,548.7 188.5,548.7C189.9,548.7 191.4,526.3 192.8,526.3C194.0,526.3 195.3,534.2 196.5,539.6C197.0,541.9 197.6,547.3 198.1,547.9C199.5,549.6 200.9,548.9 202.3,550.4C203.7,551.9 205.0,580.2 206.4,580.2C207.8,580.2 209.2,567.5 210.6,566.1C212.0,564.7 213.3,563.7 214.7,563.7C216.1,563.7 217.5,576.9 218.9,576.9C220.3,576.9 221.6,550.5 223.0,546.2C224.4,541.8 225.8,540.0 227.2,537.9C228.9,535.4 230.5,534.9 232.2,532.1C233.6,529.8 234.9,519.7 236.3,519.7C237.7,519.7 239.1,529.4 240.5,534.6C242.1,540.7 243.8,553.7 245.4,553.7C246.5,553.7 247.7,519.4 248.8,509.7C249.6,502.8 250.4,495.0 251.2,493.9C252.9,491.7 254.5,490.6 256.2,490.6C258.4,490.6 260.7,491.9 262.9,493.1C264.8,494.2 266.8,496.2 268.7,498.9C270.1,500.8 271.4,508.0 272.8,508.0C275.6,508.0 278.3,507.2 281.1,507.2C283.0,507.2 285.0,516.3 286.9,516.3C288.0,516.3 289.1,516.0 290.2,515.5C291.3,515.0 292.5,504.7 293.6,504.7C295.2,504.7 296.9,506.5 298.5,509.7C299.6,511.9 300.8,532.8 301.9,546.2C303.0,559.2 304.1,585.7 305.2,589.4C306.9,595.0 308.5,598.5 310.2,598.5C312.7,598.5 315.1,589.8 317.6,588.5C320.1,587.2 322.6,587.8 325.1,586.1C326.8,585.0 328.4,556.0 330.1,532.9C330.9,521.4 331.8,487.3 332.6,487.3C333.4,487.3 334.3,499.9 335.1,509.7C335.9,519.5 336.8,548.1 337.6,552.9C339.0,560.8 340.3,561.2 341.7,566.1C343.4,572.0 345.0,586.1 346.7,586.1C347.8,586.1 348.9,585.3 350.0,584.4C351.4,583.2 352.7,572.0 354.1,572.0C355.8,572.0 357.4,573.6 359.1,573.6C360.5,573.6 361.9,568.6 363.3,568.6C364.7,568.6 366.0,568.6 367.4,568.6C369.1,568.6 370.7,559.8 372.4,557.8C374.3,555.4 376.3,555.6 378.2,552.9C379.6,551.0 381.0,544.1 382.4,539.6C383.2,536.9 384.1,531.3 384.9,531.3C386.3,531.3 387.6,536.3 389.0,536.3C390.7,536.3 392.3,533.8 394.0,533.8C395.4,533.8 396.7,537.9 398.1,537.9C400.6,537.9 403.1,532.1 405.6,532.1C409.5,532.1 413.3,534.5 417.2,535.4C421.1,536.3 424.9,537.9 428.8,537.9C430.2,537.9 431.6,536.3 433.0,536.3C434.7,536.3 436.3,542.1 438.0,542.1C441.0,542.1 444.1,531.8 447.1,531.3C450.4,530.8 453.7,530.5 457.0,530.5C459.1,530.5 461.2,532.9 463.3,532.9C465.0,532.9 466.6,528.8 468.3,528.8C471.1,528.8 473.8,529.0 476.6,529.6C477.4,529.8 478.2,548.0 479.0,556.2C479.8,564.8 480.7,580.2 481.5,580.2C482.3,580.2 483.2,563.5 484.0,556.2C484.8,548.9 485.7,537.8 486.5,536.3C488.7,532.3 491.0,531.1 493.2,530.5C495.1,530.0 497.1,529.6 499.0,529.6C500.4,529.6 501.7,532.9 503.1,532.9C504.5,532.9 505.9,524.6 507.3,524.6C508.4,524.6 509.5,530.2 510.6,531.3C512.3,533.0 513.9,534.6 515.6,534.6C517.2,534.6 518.9,530.5 520.5,530.5C523.0,530.5 525.5,532.6 528.0,533.8C529.9,534.8 531.9,537.1 533.8,537.1C535.5,537.1 537.1,532.1 538.8,532.1C539.9,532.1 541.0,535.4 542.1,535.4C543.5,535.4 544.9,530.7 546.3,528.8C547.7,526.9 549.0,523.8 550.4,523.8C552.1,523.8 553.7,534.6 555.4,534.6C558.4,534.6 561.5,530.5 564.5,530.5C565.3,530.5 566.2,546.5 567.0,552.9C567.6,557.3 568.1,564.5 568.7,564.5C569.8,564.5 570.9,553.0 572.0,551.2C573.7,548.4 575.3,549.8 577.0,546.2C577.8,544.4 578.7,501.3 579.5,489.8C580.3,478.3 581.2,464.9 582.0,464.9C582.8,464.9 583.6,473.6 584.4,481.5C585.5,492.7 586.7,530.0 587.8,546.2C588.7,559.5 589.7,578.6 590.6,578.6C591.6,578.6 592.6,565.4 593.6,556.2C594.7,546.1 595.8,523.5 596.9,516.3C597.7,510.8 598.6,504.7 599.4,504.7C600.2,504.7 601.1,510.9 601.9,514.7C603.0,519.8 604.1,531.9 605.2,532.9C606.3,533.9 607.4,534.6 608.5,534.6C609.6,534.6 610.7,524.1 611.8,518.0C612.9,511.9 614.0,500.1 615.1,497.3C615.9,495.1 616.8,493.1 617.6,493.1C619.3,493.1 620.9,497.0 622.6,499.8C624.3,502.6 625.9,506.7 627.6,511.4C628.7,514.5 629.8,520.7 630.9,523.0C632.0,525.3 633.1,528.0 634.2,528.0C637.0,528.0 639.7,525.5 642.5,525.5C643.3,525.5 644.2,536.2 645.0,537.9C645.8,539.6 646.7,541.2 647.5,541.2C648.6,541.2 649.7,533.1 650.8,530.5C652.2,527.2 653.6,526.8 655.0,523.0C656.1,520.0 657.2,510.5 658.3,506.4C659.2,502.9 660.2,498.1 661.1,498.1C662.4,498.1 663.6,502.7 664.9,506.4C666.6,511.3 668.2,523.0 669.9,529.6C671.0,534.0 672.1,539.2 673.2,541.2C674.9,544.2 676.5,547.1 678.2,547.1C679.9,547.1 681.5,546.2 683.2,546.2C683.8,546.2 684.3,574.7 684.9,589.4C685.5,605.9 686.2,640.0 686.8,640.0C687.5,640.0 688.3,588.4 689.0,572.8C689.6,560.8 690.1,544.6 690.7,544.6C691.8,544.6 692.9,554.5 694.0,554.5C695.7,554.5 697.3,549.6 699.0,546.2C700.4,543.4 701.7,535.4 703.1,535.4C704.8,535.4 706.4,536.3 708.1,536.3C709.5,536.3 710.8,514.7 712.2,514.7C713.6,514.7 715.0,517.2 716.4,517.2C718.3,517.2 720.3,505.2 722.2,499.8C723.6,496.0 724.9,489.0 726.3,489.0C727.7,489.0 729.1,498.3 730.5,503.1C731.9,507.7 733.2,517.2 734.6,517.2C735.2,517.2 735.8,489.3 736.4,470.0C736.9,455.0 737.3,420.4 737.8,413.2C738.4,404.5 738.9,397.4 739.5,397.4C740.0,397.4 740.6,404.8 741.1,413.2C741.7,422.1 742.2,468.0 742.8,479.6C743.6,496.7 744.5,509.1 745.3,512.8C746.1,516.5 747.0,519.4 747.8,519.4C749.4,519.4 751.1,514.4 752.7,514.4C754.9,514.4 757.2,521.5 759.4,524.4C761.3,526.9 763.3,531.0 765.2,531.0C766.9,531.0 768.5,530.7 770.2,530.2C771.3,529.8 772.4,520.1 773.5,519.4C776.0,517.7 778.5,518.0 781.0,516.9C782.9,516.1 784.9,513.6 786.8,513.6C787.9,513.6 789.0,517.3 790.1,519.4C791.2,521.5 792.3,526.1 793.4,526.1C794.5,526.1 795.6,524.4 796.7,521.1C797.3,519.4 797.8,500.2 798.4,496.2C798.9,492.4 799.5,488.7 800.0,488.7C800.4,488.7 800.9,500.6 801.3,512.8C801.6,521.3 801.9,541.6 802.2,560.0C802.8,596.8 803.4,671.9 804.0,700.0C805.4,765.6 806.8,829.5 808.2,829.5C809.3,829.5 810.4,756.6 811.5,700.0C812.2,665.7 812.8,584.7 813.5,560.0C814.0,541.5 814.5,529.1 815.0,521.1C815.5,512.6 816.1,502.8 816.6,502.8C817.4,502.8 818.3,504.3 819.1,506.1C819.9,507.9 820.8,521.9 821.6,521.9C822.2,521.9 822.7,506.6 823.3,496.2C823.8,486.4 824.4,459.0 824.9,458.8C826.8,458.1 828.8,458.5 830.7,458.0C832.1,457.7 833.5,454.7 834.9,454.7C835.3,454.7 835.8,465.8 836.2,479.6C836.5,490.2 836.9,536.2 837.2,560.0C837.9,612.4 838.7,697.7 839.4,697.7C840.2,697.7 841.0,587.9 841.8,560.0C842.5,534.4 843.3,518.1 844.0,504.5C844.8,489.0 845.7,470.1 846.5,468.0C847.3,465.9 848.2,464.6 849.0,464.6C850.1,464.6 851.2,470.5 852.3,470.5C853.7,470.5 855.1,458.8 856.5,458.8C858.2,458.8 859.8,461.3 861.5,461.3C862.0,461.3 862.6,446.4 863.1,429.8C863.5,417.3 863.9,373.4 864.3,350.0C864.8,320.8 865.3,272.4 865.8,272.4C866.3,272.4 866.8,321.9 867.3,350.0C867.7,374.4 868.2,417.1 868.6,429.8C869.3,449.3 869.9,463.2 870.6,466.3C872.0,472.7 873.3,472.2 874.7,476.3C876.1,480.5 877.5,487.3 878.9,492.9C880.3,498.4 881.6,503.5 883.0,509.5C884.4,515.6 885.8,529.4 887.2,529.4C887.7,529.4 888.3,519.6 888.8,517.8C889.9,514.0 891.1,511.1 892.2,511.1C893.6,511.1 894.9,519.9 896.3,522.7C897.7,525.6 899.1,529.4 900.5,529.4C902.7,529.4 904.9,526.9 907.1,526.9C909.3,526.9 911.5,529.6 913.7,532.7C914.9,534.4 916.2,535.6 917.4,542.7C917.9,545.4 918.3,567.8 918.8,589.8C919.3,611.8 919.7,669.9 920.2,700.0C920.9,747.2 921.7,817.0 922.4,817.0C923.1,817.0 923.9,744.3 924.6,700.0C925.1,667.8 925.7,620.5 926.2,589.8C926.5,574.4 926.7,549.7 927.0,549.0C928.3,545.9 929.5,545.2 930.8,545.2C932.7,545.2 934.7,549.8 936.6,551.0C939.1,552.6 941.6,554.4 944.1,554.4C945.2,554.4 946.3,547.7 947.4,547.7C950.7,547.7 954.0,547.9 957.3,548.5C959.0,548.8 960.6,559.3 962.3,559.3C963.4,559.3 964.5,551.4 965.6,551.0C968.7,549.8 971.7,550.5 974.8,549.4C976.2,548.9 977.5,542.7 978.9,542.7C980.6,542.7 982.2,551.0 983.9,551.0C985.8,551.0 987.8,551.0 989.7,551.0C991.9,551.0 994.1,541.1 996.3,541.1C998.0,541.1 999.6,543.6 1001.3,543.6C1003.0,543.6 1004.6,541.9 1006.3,541.9C1008.5,541.9 1010.7,548.7 1012.9,549.4C1016.2,550.4 1019.6,551.0 1022.9,551.0C1024.3,551.0 1025.7,546.1 1027.1,546.1C1028.5,546.1 1029.8,556.2 1031.2,557.7C1032.9,559.5 1034.5,561.0 1036.2,561.0C1038.1,561.0 1040.1,558.6 1042.0,556.0C1043.4,554.1 1044.7,548.0 1046.1,544.4C1047.2,541.4 1048.4,536.1 1049.5,536.1C1050.6,536.1 1051.7,552.7 1052.8,552.7C1053.9,552.7 1055.0,541.9 1056.1,541.9C1057.8,541.9 1059.4,543.2 1061.1,544.4C1062.8,545.6 1064.4,550.2 1066.1,550.2C1067.7,550.2 1069.4,544.4 1071.0,544.4C1072.4,544.4 1073.8,548.5 1075.2,548.5C1076.9,548.5 1078.5,541.1 1080.2,541.1C1081.3,541.1 1082.4,544.4 1083.5,544.4C1085.2,544.4 1086.8,532.8 1088.5,532.8C1089.9,532.8 1091.2,540.5 1092.6,546.1C1094.0,551.9 1095.4,570.1 1096.8,570.1C1097.9,570.1 1099.0,554.1 1100.1,549.4C1100.9,545.8 1101.8,542.4 1102.6,541.1C1103.7,539.4 1104.8,539.9 1105.9,537.8C1106.7,536.2 1107.6,514.7 1108.4,506.2C1109.1,499.0 1109.8,488.0 1110.5,488.0C1111.5,488.0 1112.4,509.0 1113.4,512.9C1114.2,516.2 1115.1,519.5 1115.9,519.5C1116.7,519.5 1117.5,496.3 1118.3,496.3C1118.9,496.3 1119.6,505.5 1120.2,516.2C1120.7,525.2 1121.3,564.5 1121.8,580.0C1123.7,636.3 1125.7,701.0 1127.6,701.0C1128.7,701.0 1129.7,614.9 1130.8,580.0C1131.3,562.6 1131.9,545.7 1132.4,532.8C1133.2,512.7 1134.1,489.8 1134.9,483.0C1135.5,478.4 1136.0,473.9 1136.6,473.9C1137.4,473.9 1138.3,482.1 1139.1,489.6C1139.9,497.1 1140.8,522.5 1141.6,529.5C1142.7,538.7 1143.8,547.7 1144.9,547.7C1146.3,547.7 1147.6,540.8 1149.0,537.8C1150.4,534.8 1151.8,529.5 1153.2,529.5C1154.6,529.5 1155.9,532.8 1157.3,532.8C1159.3,532.8 1161.2,526.1 1163.2,526.1C1164.6,526.1 1165.9,542.7 1167.3,542.7C1168.7,542.7 1170.1,537.8 1171.5,537.8C1172.9,537.8 1174.2,546.1 1175.6,546.1C1178.4,546.1 1181.1,545.2 1183.9,542.7C1185.0,541.7 1186.1,518.7 1187.2,512.9C1187.8,509.9 1188.3,506.2 1188.9,506.2C1189.7,506.2 1190.6,521.8 1191.4,532.8C1191.9,539.8 1192.5,559.3 1193.0,559.3C1194.1,559.3 1195.2,541.1 1196.3,537.8C1197.1,535.3 1198.0,532.8 1198.8,532.8C1199.9,532.8 1201.1,537.8 1202.2,537.8C1203.8,537.8 1205.5,523.3 1207.1,516.2C1208.8,508.9 1210.4,505.1 1212.1,494.6C1213.1,488.3 1214.1,463.9 1215.1,463.9C1216.0,463.9 1217.0,481.3 1217.9,492.9C1218.7,503.2 1219.6,531.1 1220.4,531.1C1221.8,531.1 1223.2,529.5 1224.6,529.5C1225.7,529.5 1226.8,541.1 1227.9,541.1C1229.8,541.1 1231.8,540.8 1233.7,540.2C1235.1,539.8 1236.6,536.5 1238.0,534.0C1239.2,531.9 1240.4,526.0 1241.6,526.0C1243.3,526.0 1244.9,539.3 1246.6,539.3C1248.3,539.3 1249.9,539.3 1251.6,539.3C1253.3,539.3 1254.9,525.2 1256.6,519.4C1257.4,516.6 1258.2,511.9 1259.0,511.9C1259.8,511.9 1260.7,522.1 1261.5,527.7C1262.3,533.3 1263.2,545.1 1264.0,545.9C1265.1,547.0 1266.2,546.4 1267.3,547.6C1267.9,548.2 1268.4,554.5 1269.0,560.0C1270.1,570.4 1271.1,613.0 1272.2,613.0C1273.5,613.0 1274.7,579.0 1276.0,565.0C1277.3,551.0 1278.5,533.0 1279.8,527.7C1281.2,522.0 1282.5,516.9 1283.9,516.9C1285.3,516.9 1286.7,517.8 1288.1,518.6C1290.0,519.7 1292.0,524.4 1293.9,524.4C1295.3,524.4 1296.7,520.5 1298.1,516.1C1298.9,513.6 1299.7,503.2 1300.5,501.1C1301.2,499.4 1301.8,497.8 1302.5,497.8C1303.2,497.8 1304.0,506.7 1304.7,511.1C1305.5,516.1 1306.4,526.0 1307.2,526.0C1308.6,526.0 1309.9,520.1 1311.3,517.7C1312.7,515.2 1314.1,511.1 1315.5,511.1C1317.2,511.1 1318.8,516.1 1320.5,516.1C1322.1,516.1 1323.8,512.7 1325.4,512.7C1326.8,512.7 1328.2,518.6 1329.6,518.6C1331.0,518.6 1332.3,517.1 1333.7,514.4C1334.5,512.7 1335.4,491.5 1336.2,489.5C1336.8,488.1 1337.3,487.0 1337.9,487.0C1338.7,487.0 1339.6,493.3 1340.4,496.1C1342.1,501.6 1343.7,511.1 1345.4,511.1C1346.8,511.1 1348.1,501.9 1349.5,501.9C1350.9,501.9 1352.3,505.5 1353.7,507.8C1355.1,510.1 1356.4,513.5 1357.8,516.1C1359.5,519.3 1361.1,525.2 1362.8,525.2C1364.5,525.2 1366.1,513.7 1367.8,512.7C1370.6,511.1 1373.3,511.9 1376.1,510.2C1377.2,509.5 1378.3,503.6 1379.4,499.5C1379.9,497.5 1380.5,492.8 1381.0,492.8C1381.3,492.8 1381.7,533.5 1382.0,550.0C1383.3,614.4 1384.6,711.0 1385.9,711.0C1387.3,711.0 1388.6,571.7 1390.0,550.0C1391.2,531.4 1392.3,514.4 1393.5,514.4C1395.4,514.4 1397.4,516.1 1399.3,516.1C1401.0,516.1 1402.6,511.3 1404.3,507.8C1405.7,504.9 1407.0,497.7 1408.4,496.1C1409.5,494.9 1410.6,493.7 1411.7,493.7C1412.5,493.7 1413.4,498.1 1414.2,501.1C1415.0,504.1 1415.9,510.9 1416.7,512.7C1417.5,514.5 1418.4,516.1 1419.2,516.1C1420.6,516.1 1422.0,507.8 1423.4,507.8C1425.3,507.8 1427.3,524.4 1429.2,524.4C1430.9,524.4 1432.5,514.4 1434.2,514.4C1435.3,514.4 1436.4,520.2 1437.5,520.2C1439.7,520.2 1441.9,511.1 1444.1,511.1C1446.3,511.1 1448.5,514.4 1450.7,514.4C1452.4,514.4 1454.0,506.9 1455.7,506.9C1457.4,506.9 1459.0,511.9 1460.7,511.9C1461.8,511.9 1462.9,510.2 1464.0,510.2C1465.9,510.2 1467.9,516.1 1469.8,516.1C1472.9,516.1 1475.9,514.4 1479.0,514.4C1481.5,514.4 1483.9,514.4 1486.4,514.4C1487.8,514.4 1489.2,509.4 1490.6,509.4C1492.0,509.4 1493.3,519.4 1494.7,519.4C1496.1,519.4 1497.5,505.7 1498.9,504.4C1500.6,502.9 1502.2,501.9 1503.9,501.9C1505.5,501.9 1507.2,504.4 1508.8,504.4C1511.0,504.4 1513.3,501.4 1515.5,499.5C1517.4,497.9 1519.4,493.7 1521.3,493.7C1523.0,493.7 1524.6,503.7 1526.3,504.4C1528.8,505.5 1531.2,506.1 1533.7,506.1C1535.4,506.1 1537.0,505.3 1538.7,505.3C1540.2,505.3 1541.8,507.1 1543.3,507.1C1545.0,507.1 1546.6,502.9 1548.3,502.9C1549.4,502.9 1550.5,502.9 1551.6,502.9C1552.4,502.9 1553.3,491.9 1554.1,490.5C1554.9,489.1 1555.8,488.0 1556.6,488.0C1558.0,488.0 1559.3,492.4 1560.7,494.6C1562.1,496.8 1563.5,500.1 1564.9,501.2C1567.1,503.0 1569.3,504.6 1571.5,504.6C1573.4,504.6 1575.4,504.3 1577.3,503.7C1578.4,503.3 1579.6,495.4 1580.7,495.4C1582.1,495.4 1583.4,497.9 1584.8,497.9C1585.9,497.9 1587.0,494.3 1588.1,493.8C1589.2,493.3 1590.4,492.9 1591.5,492.9C1592.6,492.9 1593.7,499.3 1594.8,499.6C1596.7,500.1 1598.7,500.0 1600.6,500.4C1602.5,500.8 1604.5,502.6 1606.4,504.6C1607.8,506.0 1609.1,511.2 1610.5,511.2C1611.6,511.2 1612.8,511.2 1613.9,511.2C1614.4,511.2 1615.0,497.0 1615.5,496.3C1616.3,495.2 1617.2,494.6 1618.0,494.6C1618.8,494.6 1619.7,504.6 1620.5,504.6C1621.9,504.6 1623.2,499.6 1624.6,499.6C1626.6,499.6 1628.5,507.9 1630.5,507.9C1632.1,507.9 1633.8,505.0 1635.4,503.7C1636.8,502.6 1638.2,500.4 1639.6,500.4C1641.0,500.4 1642.3,503.7 1643.7,503.7C1645.1,503.7 1646.5,500.7 1647.9,496.3C1648.7,493.7 1649.6,474.7 1650.4,473.0C1651.1,471.6 1651.8,470.5 1652.5,470.5C1653.2,470.5 1653.8,477.4 1654.5,483.0C1655.1,487.8 1655.6,504.0 1656.2,504.6C1657.3,505.7 1658.4,506.2 1659.5,506.2C1661.7,506.2 1663.9,505.4 1666.1,505.4C1668.3,505.4 1670.6,509.5 1672.8,509.5C1674.5,509.5 1676.1,508.7 1677.8,507.9C1679.4,507.1 1681.1,502.9 1682.7,502.9C1683.8,502.9 1685.0,506.2 1686.1,506.2C1687.7,506.2 1689.4,497.9 1691.0,497.9C1692.4,497.9 1693.8,507.9 1695.2,507.9C1696.3,507.9 1697.4,507.9 1698.5,507.9C1699.3,507.9 1700.2,492.7 1701.0,483.0C1701.6,476.4 1702.1,461.0 1702.7,459.8C1703.5,458.2 1704.3,457.3 1705.1,457.3C1706.2,457.3 1707.4,458.2 1708.5,459.8C1709.3,460.9 1710.2,469.7 1711.0,476.3C1711.8,482.6 1712.6,495.0 1713.4,499.6C1714.5,506.1 1715.7,512.9 1716.8,512.9C1718.7,512.9 1720.7,511.2 1722.6,511.2C1723.7,511.2 1724.8,511.7 1725.9,512.9C1726.5,513.5 1727.0,536.9 1727.6,549.4C1728.6,571.4 1729.6,617.3 1730.6,617.3C1731.3,617.3 1732.0,599.9 1732.7,580.0C1733.0,571.5 1733.3,540.5 1733.6,532.8C1734.1,520.9 1734.5,510.4 1735.0,510.4C1735.8,510.4 1736.7,513.4 1737.5,516.2C1738.1,518.1 1738.6,525.8 1739.2,526.1C1740.6,526.8 1741.9,526.5 1743.3,527.0C1744.7,527.5 1746.1,530.3 1747.5,530.3C1749.1,530.3 1750.8,528.1 1752.4,527.0" fill="none" stroke="#1de9a0" stroke-width="4.3" stroke-linejoin="round" stroke-linecap="round"/>
<polygon points="59.4,49.2 87.7,75.8 87.7,122.3 60.0,149.4" fill="#0b8efa"/><polygon points="96.8,86.1 110.7,99.0 124.9,85.7 124.9,122.3 96.8,149.4" fill="#0b8efa"/><polygon points="161.5,49.2 133.8,75.8 133.8,149.4 161.5,122.3" fill="#0b8efa"/>
<polygon points="1578.2,954.2 1594.3,969.3 1594.3,995.7 1578.5,1011.1" fill="#0b8efa"/><polygon points="1599.4,975.2 1607.3,982.5 1615.4,974.9 1615.4,995.7 1599.4,1011.1" fill="#0b8efa"/><polygon points="1636.2,954.2 1620.5,969.3 1620.5,1011.1 1636.2,995.7" fill="#0b8efa"/>
<text x="192.2" y="95.3" font-size="49.2" font-weight="normal" text-anchor="start" fill="#f6f8fa" textLength="134.4" lengthAdjust="spacingAndGlyphs" stroke="#f6f8fa" stroke-width="1.5" class="tw">SOL&#39;s</text>
<text x="339.6" y="95.3" font-size="49.2" font-weight="normal" text-anchor="start" fill="#f6f8fa" textLength="166.8" lengthAdjust="spacingAndGlyphs" stroke="#f6f8fa" stroke-width="1.5" class="tw">market</text>
<text x="523.8" y="95.3" font-size="49.2" font-weight="normal" text-anchor="start" fill="#f6f8fa" textLength="85.6" lengthAdjust="spacingAndGlyphs" stroke="#f6f8fa" stroke-width="1.5" class="tw">cap</text>
<text x="625.8" y="95.3" font-size="49.2" font-weight="normal" text-anchor="start" fill="#f6f8fa" textLength="114.6" lengthAdjust="spacingAndGlyphs" stroke="#f6f8fa" stroke-width="1.5" class="tw">grew</text>
<text x="756.8" y="95.3" font-size="49.2" font-weight="normal" text-anchor="start" fill="#f6f8fa" textLength="90.4" lengthAdjust="spacingAndGlyphs" stroke="#f6f8fa" stroke-width="1.5" class="tw">17%</text>
<text x="863.0" y="95.3" font-size="49.2" font-weight="normal" text-anchor="start" fill="#f6f8fa" textLength="121.8" lengthAdjust="spacingAndGlyphs" stroke="#f6f8fa" stroke-width="1.5" class="tw">QoQ;</text>
<text x="996.2" y="95.3" font-size="49.2" font-weight="normal" text-anchor="start" fill="#f6f8fa" textLength="195.0" lengthAdjust="spacingAndGlyphs" stroke="#f6f8fa" stroke-width="1.5" class="tw">revenue</text>
<text x="1206.0" y="95.3" font-size="49.2" font-weight="normal" text-anchor="start" fill="#f6f8fa" textLength="134.8" lengthAdjust="spacingAndGlyphs" stroke="#f6f8fa" stroke-width="1.5" class="tw">(SOL)</text>
<text x="1355.6" y="95.3" font-size="49.2" font-weight="normal" text-anchor="start" fill="#f6f8fa" textLength="58.4" lengthAdjust="spacingAndGlyphs" stroke="#f6f8fa" stroke-width="1.5" class="tw">up</text>
<text x="1430.4" y="95.3" font-size="49.2" font-weight="normal" text-anchor="start" fill="#f6f8fa" textLength="94.4" lengthAdjust="spacingAndGlyphs" stroke="#f6f8fa" stroke-width="1.5" class="tw">10%</text>
<text x="1541.0" y="95.3" font-size="49.2" font-weight="normal" text-anchor="start" fill="#f6f8fa" textLength="110.0" lengthAdjust="spacingAndGlyphs" stroke="#f6f8fa" stroke-width="1.5" class="tw">QoQ</text>
<text x="191.3" y="140.4" font-size="26.3" font-weight="normal" text-anchor="start" fill="#eceef0" textLength="479.5" lengthAdjust="spacingAndGlyphs" stroke="#eceef0" stroke-width="0.3">SOL market cap and revenue (SOL)</text>
<text x="103.7" y="185.3" font-size="20.0" font-weight="normal" text-anchor="start" fill="#e4e7ea" textLength="44.5" lengthAdjust="spacingAndGlyphs">$16B</text>
<text x="103.7" y="268.5" font-size="20.0" font-weight="normal" text-anchor="start" fill="#e4e7ea" textLength="44.5" lengthAdjust="spacingAndGlyphs">$14B</text>
<text x="103.7" y="351.7" font-size="20.0" font-weight="normal" text-anchor="start" fill="#e4e7ea" textLength="44.5" lengthAdjust="spacingAndGlyphs">$12B</text>
<text x="103.7" y="435.0" font-size="20.0" font-weight="normal" text-anchor="start" fill="#e4e7ea" textLength="44.5" lengthAdjust="spacingAndGlyphs">$10B</text>
<text x="110.7" y="518.2" font-size="20.0" font-weight="normal" text-anchor="start" fill="#e4e7ea" textLength="37.5" lengthAdjust="spacingAndGlyphs">$8B</text>
<text x="110.7" y="601.4" font-size="20.0" font-weight="normal" text-anchor="start" fill="#e4e7ea" textLength="37.5" lengthAdjust="spacingAndGlyphs">$6B</text>
<text x="110.7" y="684.6" font-size="20.0" font-weight="normal" text-anchor="start" fill="#e4e7ea" textLength="37.5" lengthAdjust="spacingAndGlyphs">$4B</text>
<text x="110.7" y="767.8" font-size="20.0" font-weight="normal" text-anchor="start" fill="#e4e7ea" textLength="37.5" lengthAdjust="spacingAndGlyphs">$2B</text>
<text x="122.7" y="851.1" font-size="20.0" font-weight="normal" text-anchor="start" fill="#e4e7ea" textLength="25.5" lengthAdjust="spacingAndGlyphs">$0</text>
<text x="1766.0" y="185.6" font-size="20.0" font-weight="normal" text-anchor="start" fill="#e4e7ea" textLength="51.0" lengthAdjust="spacingAndGlyphs">4000</text>
<text x="1766.0" y="268.8" font-size="20.0" font-weight="normal" text-anchor="start" fill="#e4e7ea" textLength="49.8" lengthAdjust="spacingAndGlyphs">3500</text>
<text x="1766.0" y="352.0" font-size="20.0" font-weight="normal" text-anchor="start" fill="#e4e7ea" textLength="51.0" lengthAdjust="spacingAndGlyphs">3000</text>
<text x="1766.0" y="435.2" font-size="20.0" font-weight="normal" text-anchor="start" fill="#e4e7ea" textLength="49.8" lengthAdjust="spacingAndGlyphs">2500</text>
<text x="1766.0" y="518.4" font-size="20.0" font-weight="normal" text-anchor="start" fill="#e4e7ea" textLength="51.0" lengthAdjust="spacingAndGlyphs">2000</text>
<text x="1766.0" y="601.6" font-size="20.0" font-weight="normal" text-anchor="start" fill="#e4e7ea" textLength="45.5" lengthAdjust="spacingAndGlyphs">1500</text>
<text x="1766.0" y="684.8" font-size="20.0" font-weight="normal" text-anchor="start" fill="#e4e7ea" textLength="45.5" lengthAdjust="spacingAndGlyphs">1000</text>
<text x="1766.0" y="768.0" font-size="20.0" font-weight="normal" text-anchor="start" fill="#e4e7ea" textLength="38.5" lengthAdjust="spacingAndGlyphs">500</text>
<text x="1766.0" y="851.2" font-size="20.0" font-weight="normal" text-anchor="start" fill="#e4e7ea" textLength="12.8" lengthAdjust="spacingAndGlyphs">0</text>
<text x="118.9" y="872.8" font-size="20.0" font-weight="normal" text-anchor="start" fill="#e4e7ea" textLength="87.2" lengthAdjust="spacingAndGlyphs">Oct-2022</text>
<text x="266.6" y="872.8" font-size="20.0" font-weight="normal" text-anchor="start" fill="#e4e7ea" textLength="89.8" lengthAdjust="spacingAndGlyphs">Nov-2022</text>
<text x="414.6" y="872.8" font-size="20.0" font-weight="normal" text-anchor="start" fill="#e4e7ea" textLength="90.9" lengthAdjust="spacingAndGlyphs">Dec-2022</text>
<text x="564.6" y="872.8" font-size="20.0" font-weight="normal" text-anchor="start" fill="#e4e7ea" textLength="88.7" lengthAdjust="spacingAndGlyphs">Jan-2023</text>
<text x="711.8" y="872.8" font-size="20.0" font-weight="normal" text-anchor="start" fill="#e4e7ea" textLength="89.4" lengthAdjust="spacingAndGlyphs">Feb-2023</text>
<text x="859.7" y="872.8" font-size="20.0" font-weight="normal" text-anchor="start" fill="#e4e7ea" textLength="90.2" lengthAdjust="spacingAndGlyphs">Mar-2023</text>
<text x="1010.4" y="872.8" font-size="20.0" font-weight="normal" text-anchor="start" fill="#e4e7ea" textLength="87.1" lengthAdjust="spacingAndGlyphs">Apr-2023</text>
<text x="1155.6" y="872.8" font-size="20.0" font-weight="normal" text-anchor="start" fill="#e4e7ea" textLength="93.6" lengthAdjust="spacingAndGlyphs">May-2023</text>
<text x="1306.5" y="872.8" font-size="20.0" font-weight="normal" text-anchor="start" fill="#e4e7ea" textLength="89.1" lengthAdjust="spacingAndGlyphs">Jun-2023</text>
<text x="1454.1" y="872.8" font-size="20.0" font-weight="normal" text-anchor="start" fill="#e4e7ea" textLength="91.2" lengthAdjust="spacingAndGlyphs">Aug-2023</text>
<text x="1602.6" y="872.8" font-size="20.0" font-weight="normal" text-anchor="start" fill="#e4e7ea" textLength="91.2" lengthAdjust="spacingAndGlyphs">Sep-2023</text>
<g transform="translate(82.4,629.5) rotate(-90)"><text x="0.0" y="0.0" font-size="23.7" font-weight="normal" text-anchor="start" fill="#eef0f2" textLength="264.5" lengthAdjust="spacingAndGlyphs" stroke="#eef0f2" stroke-width="0.4">Circulating Market Cap</text></g>
<rect x="66.5" y="640.9" width="19" height="32" rx="9.5" fill="#9a47fb"/>
<g transform="translate(1845.2,445.6) rotate(90)"><text x="0.0" y="0.0" font-size="23.7" font-weight="normal" text-anchor="start" fill="#eef0f2" textLength="187.5" lengthAdjust="spacingAndGlyphs" stroke="#eef0f2" stroke-width="0.4">Revenue ($SOL)</text></g>
<line x1="1851.9" y1="406.6" x2="1851.9" y2="432.3" stroke="#1de9a0" stroke-width="5.4" stroke-linecap="round"/>
<rect x="60" y="916.3" width="1808" height="2.2" fill="#8a959d"/>
<text x="60.3" y="951.1" font-size="24.7" font-weight="bold" text-anchor="start" fill="#f2f4f6" textLength="125.0" lengthAdjust="spacingAndGlyphs">Data as of:</text><text x="190.6" y="951.1" font-size="24.7" font-weight="normal" text-anchor="start" fill="#eef0f2" textLength="232.3" lengthAdjust="spacingAndGlyphs">September 30, 2023</text>
<text x="60.3" y="989.5" font-size="24.7" font-weight="bold" text-anchor="start" fill="#f2f4f6" textLength="90.4" lengthAdjust="spacingAndGlyphs">Source:</text><text x="156.0" y="989.5" font-size="24.7" font-weight="normal" text-anchor="start" fill="#eef0f2" textLength="304.0" lengthAdjust="spacingAndGlyphs">CoinGecko, Token Terminal</text>
<text x="60.3" y="1027.9" font-size="24.7" font-weight="bold" text-anchor="start" fill="#f2f4f6" textLength="62.8" lengthAdjust="spacingAndGlyphs">Note:</text><text x="129.0" y="1027.9" font-size="24.7" font-weight="normal" text-anchor="start" fill="#eef0f2" textLength="591.0" lengthAdjust="spacingAndGlyphs">Revenue measures all fees collected by the protocol.</text>
<text x="1657.3" y="1002.6" font-size="60.3" font-weight="normal" text-anchor="start" fill="#ffffff" textLength="213.5" lengthAdjust="spacingAndGlyphs" stroke="#ffffff" stroke-width="2.3" stroke-linejoin="round">Messari</text>
</svg>
</body></html>
